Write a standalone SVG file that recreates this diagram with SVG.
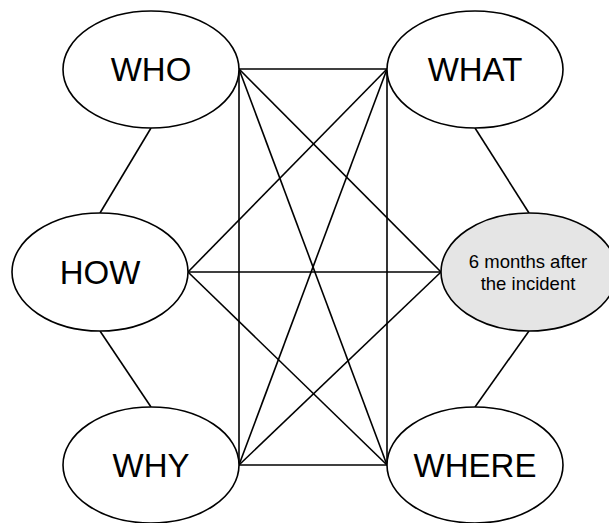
<svg xmlns="http://www.w3.org/2000/svg" width="609" height="523" viewBox="0 0 609 523">
<style>
.n{fill:#fff;stroke:#000;stroke-width:1.6}
.g{fill:#e5e5e5}
.t{font-family:"Liberation Sans",Arial,sans-serif;font-size:33px;fill:#000;text-anchor:middle}
.s{font-size:18.5px}
.c line{stroke:#000;stroke-width:1.6}
</style>
<rect width="609" height="523" fill="#fff"/>
<g class="c" id="connectors">
<line x1="151" y1="128" x2="100" y2="213"/>
<line x1="100" y1="331" x2="151" y2="407"/>
<line x1="475" y1="128" x2="529" y2="213"/>
<line x1="529" y1="331" x2="475" y2="407"/>
<line x1="239" y1="69" x2="387" y2="69"/>
<line x1="239" y1="465" x2="387" y2="465"/>
<line x1="188" y1="272" x2="441" y2="272"/>
<line x1="239" y1="69" x2="239" y2="465"/>
<line x1="387" y1="69" x2="387" y2="465"/>
<line x1="239" y1="69" x2="387" y2="465"/>
<line x1="387" y1="69" x2="239" y2="465"/>
<line x1="239" y1="69" x2="441" y2="272"/>
<line x1="188" y1="272" x2="387" y2="69"/>
<line x1="188" y1="272" x2="387" y2="465"/>
<line x1="441" y1="272" x2="239" y2="465"/>
</g>
<g id="who"><ellipse class="n" cx="151" cy="69.5" rx="88" ry="58.5"/><text class="t" x="151" y="81">WHO</text></g>
<g id="what"><ellipse class="n" cx="475" cy="69.5" rx="88" ry="58.5"/><text class="t" x="475" y="81">WHAT</text></g>
<g id="how"><ellipse class="n" cx="100" cy="272" rx="88" ry="59"/><text class="t" x="100" y="284">HOW</text></g>
<g id="when"><ellipse class="n g" cx="529" cy="272" rx="88" ry="59"/><text class="t s" x="528" y="268">6 months after</text><text class="t s" x="528" y="290">the incident</text></g>
<g id="why"><ellipse class="n" cx="151" cy="465" rx="88" ry="58"/><text class="t" x="151" y="477">WHY</text></g>
<g id="where"><ellipse class="n" cx="475" cy="465" rx="88" ry="58"/><text class="t" x="475" y="477">WHERE</text></g>
</svg>
